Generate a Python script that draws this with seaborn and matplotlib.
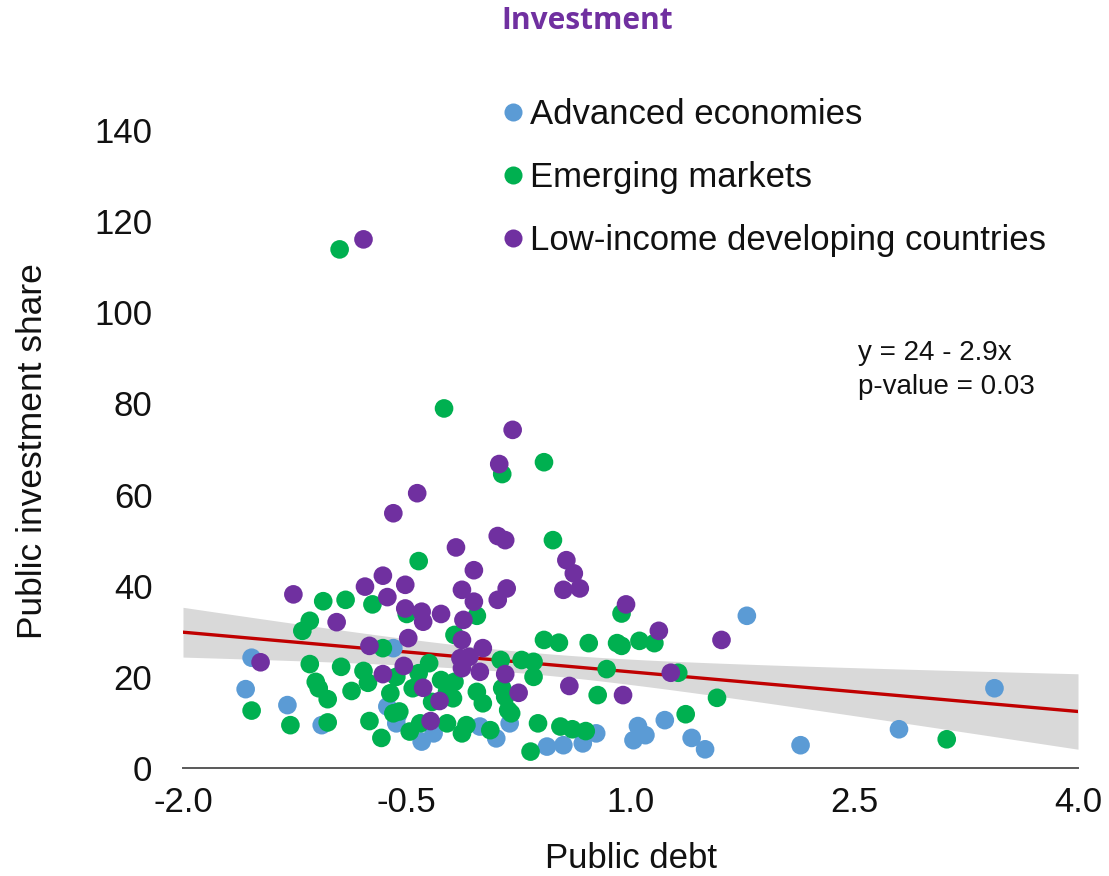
import numpy as np
import pandas as pd
import matplotlib
matplotlib.use("Agg")
import matplotlib.pyplot as plt
from matplotlib.lines import Line2D
import seaborn as sns

# ---- data -------------------------------------------------------------
groups = ["Advanced economies", "Emerging markets", "Low-income developing countries"]
group_colors = ["#5B9BD5", "#00B050", "#7030A0"]

ae_debt = [-1.54, -1.58, -1.30, -1.07, -0.59, -0.63, -0.57, -0.56, -0.40, -0.32,
           -0.01, 0.10, 0.19, 0.44, 0.55, 0.68, 0.77, 1.05, 1.10, 1.02,
           1.23, 1.41, 1.50, 1.78, 2.14, 2.80, 3.44]
ae_invest = [24.2, 17.3, 13.8, 9.4, 26.3, 13.5, 9.8, 11.6, 5.8, 7.6,
             9.1, 6.5, 9.8, 4.7, 5.0, 5.4, 7.6, 9.2, 7.2, 6.1,
             10.5, 6.6, 4.1, 33.4, 5.0, 8.5, 17.5]

em_debt = [-0.95, -0.25, 0.14, 0.42, 0.48, -0.42, -1.06, -0.91, -0.73, -1.15,
           -1.20, -0.66, -1.15, -0.94, -0.79, -0.76, -1.11, -1.09, -1.03, -0.87,
           -0.61, -1.54, -1.28, -1.03, -0.75, -0.67, -0.59, -0.03, -0.18, 0.42,
           0.52, -0.35, -0.42, -0.57, 0.13, 0.27, 0.35, 0.35, -0.27, -0.18,
           -0.46, -0.23, -0.03, 0.14, -0.33, -0.19, 0.01, 0.16, 0.18, -0.55,
           -0.41, -0.48, -0.23, -0.13, -0.10, 0.06, 0.20, 0.38, 0.53, 0.33,
           0.94, 0.72, 0.91, 0.94, 1.06, 1.16, 0.84, 1.32, 0.78, 1.58,
           1.37, 0.61, 0.70, 3.12, -0.50]
em_invest = [113.8, 78.9, 64.5, 67.1, 50.0, 45.4, 36.6, 36.9, 35.9, 32.3,
             30.1, 26.3, 22.8, 22.2, 21.3, 18.7, 18.9, 17.5, 15.1, 16.9,
             16.4, 12.6, 9.4, 10.0, 10.3, 6.6, 12.0, 33.4, 29.2, 28.1,
             27.5, 23.0, 20.8, 20.0, 23.7, 23.7, 23.3, 20.0, 19.3, 18.9,
             17.5, 16.7, 16.7, 17.5, 14.5, 15.3, 14.2, 15.6, 12.7, 12.4,
             9.8, 8.0, 9.8, 7.6, 9.4, 8.3, 12.0, 9.8, 9.1, 3.6,
             33.9, 27.4, 27.4, 26.8, 27.9, 27.4, 21.7, 20.9, 16.0, 15.4,
             11.8, 8.5, 8.1, 6.3, 33.8]

lidc_debt = [-0.79, 0.21, 0.12, -0.43, -0.59, 0.11, 0.16, -0.17, 0.57, -0.05,
             0.62, -0.66, 0.55, 0.66, -0.13, 0.17, -0.51, -0.78, -1.26, -0.63,
             -0.05, 0.11, -0.51, -0.40, -0.39, -0.27, -0.12, -0.97, -0.49, -0.13,
             0.01, -0.75, -1.48, -0.14, -0.08, -0.13, -0.01, -0.52, -0.66, 0.16,
             -0.39, 0.25, -0.28, -0.34, 0.97, 1.19, 1.61, 1.27, 0.59, 0.95]
lidc_invest = [116.0, 74.2, 66.7, 60.3, 55.9, 50.9, 50.0, 48.4, 45.6, 43.4,
               42.7, 42.2, 39.1, 39.4, 39.1, 39.4, 40.2, 39.8, 38.1, 37.5,
               36.5, 36.9, 35.0, 34.3, 32.1, 33.8, 32.5, 32.0, 28.5, 28.1,
               26.3, 26.8, 23.2, 24.1, 24.4, 21.9, 21.1, 22.4, 20.6, 20.6,
               17.6, 16.5, 14.7, 10.3, 35.9, 30.1, 28.1, 20.9, 18.0, 16.0]

# fitted line y = a + b x and its confidence band
fit_intercept = 24.0
fit_slope = -2.9
p_value = 0.03
# band half-width: sqrt(ci_base + ci_curv * (x - ci_center)^2)
ci_center = 0.3
ci_base = 5.5
ci_curv = 4.6

x_ticks = [-2.0, -0.5, 1.0, 2.5, 4.0]
x_tick_labels = ["-2.0", "-0.5", "1.0", "2.5", "4.0"]
y_ticks = [0, 20, 40, 60, 80, 100, 120, 140]

df = pd.concat([
    pd.DataFrame({"debt": ae_debt, "invest": ae_invest, "group": groups[0]}),
    pd.DataFrame({"debt": em_debt, "invest": em_invest, "group": groups[1]}),
    pd.DataFrame({"debt": lidc_debt, "invest": lidc_invest, "group": groups[2]}),
], ignore_index=True)

# ---- figure -----------------------------------------------------------
sns.set_theme(style="white")
plt.rcParams["font.family"] = ["Liberation Sans", "DejaVu Sans"]
text_color = "#111111"

W, H = 1109, 876
fig = plt.figure(figsize=(W / 100, H / 100), dpi=100)
ax = fig.add_axes([183 / W, 1 - 768 / H, (1078 - 183) / W, (768 - 130) / H])

xs = np.linspace(x_ticks[0], x_ticks[-1], 300)
fit = fit_intercept + fit_slope * xs
half = np.sqrt(ci_base + ci_curv * (xs - ci_center) ** 2)
ax.fill_between(xs, fit - half, fit + half, color="#D9D9D9", linewidth=0, zorder=1)
ax.plot(xs, fit, color="#C00000", linewidth=2.4, zorder=2)

sns.scatterplot(data=df, x="debt", y="invest", hue="group", hue_order=groups,
                palette=dict(zip(groups, group_colors)), s=180, linewidth=0,
                ax=ax, legend=False, zorder=3)

ax.set_xlim(x_ticks[0], x_ticks[-1])
ax.set_ylim(y_ticks[0], y_ticks[-1])
ax.set_xticks(x_ticks)
ax.set_xticklabels(x_tick_labels)
ax.set_yticks(y_ticks)
ax.set_yticklabels([str(v) for v in y_ticks])
ax.tick_params(axis="both", length=0, labelsize=25, colors=text_color)
ax.tick_params(axis="y", pad=22)
ax.tick_params(axis="x", pad=13)
for side in ["top", "right", "left"]:
    ax.spines[side].set_visible(False)
ax.spines["bottom"].set_color("#595959")
ax.spines["bottom"].set_linewidth(1.4)
ax.set_xlabel("")
ax.set_ylabel("")
ax.grid(False)

fig.text(631 / W, 1 - 858 / H, "Public debt", ha="center", va="center",
         fontsize=25, color=text_color)
fig.text(33 / W, 1 - 451 / H, "Public investment share", ha="center", va="center",
         rotation=90, fontsize=25.5, color=text_color)

fig.text(587 / W, 1 - 21 / H, "Investment", ha="center", va="center",
         fontsize=21.5, fontweight="bold", color="#7030A0",
         family=["Open Sans", "DejaVu Sans"])

fig.text(858 / W, 1 - 370 / H,
         f"y = {fit_intercept:g} - {abs(fit_slope):g}x\np-value = {p_value:.2f}",
         ha="left", va="center", fontsize=20, linespacing=1.38, color=text_color)

handles = [Line2D([], [], linestyle="none", marker="o", markersize=13,
                  markerfacecolor=c, markeredgewidth=0) for c in group_colors]
ax.legend(handles, groups, loc="upper left",
          bbox_to_anchor=(499 / W, 1 - 98 / H), bbox_transform=fig.transFigure,
          frameon=False, fontsize=25, handlelength=0.8, handletextpad=0.1,
          labelspacing=0.86, borderpad=0, borderaxespad=0,
          labelcolor=text_color)

fig.savefig("out.png", dpi=100)
